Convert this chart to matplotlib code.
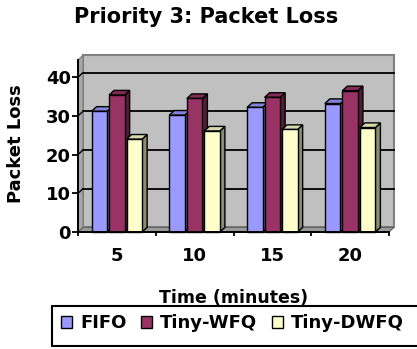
import numpy as np
import matplotlib
matplotlib.use("Agg")
import matplotlib.pyplot as plt
from matplotlib.patches import Rectangle, Polygon, Patch
from matplotlib.colors import to_rgb

plt.rcParams['font.family'] = 'DejaVu Sans'
plt.rcParams['font.weight'] = 'bold'

# packet loss per run length
minutes = ['5', '10', '15', '20']
fifo = [31.2, 30.2, 32.2, 33.2]
tiny_wfq = [35.4, 34.5, 34.8, 36.5]
tiny_dwfq = [24.0, 26.1, 26.5, 27.0]
series_names = ['FIFO', 'Tiny-WFQ', 'Tiny-DWFQ']
series_colors = ['#9999FF', '#993366', '#FFFFCC']

W, H = 417, 349
fig = plt.figure(figsize=(W / 100, H / 100), dpi=100)

def fx(px):
    return px / W

def fy(py):
    return 1 - py / H

# front plane of the 3d box: x 78..389 px, value 0 at 232 px, 3.87 px per unit
ymax = 172 / 3.87
ax = fig.add_axes([fx(78), fy(232), 311 / W, 172 / H])
ax.set_xlim(0, 4)
ax.set_ylim(0, ymax)

# depth offset of the back plane, in data units
dx = 5 / 77.75
dy = 4.6 / 3.87

def shade(c, f):
    r, g, b = to_rgb(c)
    return (r * f, g * f, b * f)

# walls and floor
ax.add_patch(Polygon([(dx, dy), (4 + dx, dy), (4 + dx, ymax + dy), (dx, ymax + dy)],
                     closed=True, facecolor='#C0C0C0', edgecolor='#808080',
                     linewidth=1.5, clip_on=False, zorder=0))
ax.add_patch(Polygon([(0, 0), (dx, dy), (dx, ymax + dy), (0, ymax)],
                     closed=True, facecolor='#A8A8A8', edgecolor='#808080',
                     linewidth=1.0, clip_on=False, zorder=0))
ax.add_patch(Polygon([(0, 0), (4, 0), (4 + dx, dy), (dx, dy)],
                     closed=True, facecolor='#9A9A9A', edgecolor='#606060',
                     linewidth=0.8, clip_on=False, zorder=0.5))

# gridlines on back wall and left wall
for v in [10, 20, 30, 40]:
    ax.plot([dx, 4 + dx], [v + dy, v + dy], color='black', lw=1.3,
            clip_on=False, zorder=0.6)
    ax.plot([0, dx], [v, v + dy], color='black', lw=1.0,
            clip_on=False, zorder=0.6)

# bars
bw = 0.2
pitch = 0.225
for i in range(len(minutes)):
    for k, vals in enumerate([fifo, tiny_wfq, tiny_dwfq]):
        v = vals[i]
        c = series_colors[k]
        x0 = i + 0.5 + (k - 1) * pitch - bw / 2
        z = 1 + i * 0.1 + k * 0.01
        ax.add_patch(Polygon([(x0 + bw, 0), (x0 + bw + dx, dy), (x0 + bw + dx, v + dy), (x0 + bw, v)],
                             closed=True, facecolor=shade(c, 0.55), edgecolor='black',
                             linewidth=1.0, clip_on=False, zorder=z))
        ax.add_patch(Polygon([(x0, v), (x0 + dx, v + dy), (x0 + bw + dx, v + dy), (x0 + bw, v)],
                             closed=True, facecolor=shade(c, 0.85), edgecolor='black',
                             linewidth=1.0, clip_on=False, zorder=z))
        ax.add_patch(Rectangle((x0, 0), bw, v, facecolor=c, edgecolor='black',
                               linewidth=1.0, clip_on=False, zorder=z + 0.001))

# axes lines and ticks
for s in ['top', 'right']:
    ax.spines[s].set_visible(False)
ax.spines['left'].set_linewidth(1.4)
ax.spines['bottom'].set_linewidth(1.4)
ax.spines['left'].set_zorder(5)
ax.spines['bottom'].set_zorder(5)
ax.set_facecolor('none')

ax.set_yticks([0, 10, 20, 30, 40])
ax.set_yticklabels(['0', '10', '20', '30', '40'])
ax.tick_params(axis='y', direction='out', length=4, width=1.3, pad=1,
               labelsize=13)
ax.set_xticks([0.5, 1.5, 2.5, 3.5])
ax.set_xticklabels(minutes)
ax.tick_params(axis='x', which='major', length=0, pad=11, labelsize=13)
ax.set_xticks([0, 1, 2, 3, 4], minor=True)
ax.tick_params(axis='x', which='minor', direction='out', length=3, width=1.3)
for lbl in ax.get_xticklabels() + ax.get_yticklabels():
    lbl.set_fontweight('bold')

# titles
fig.text(fx(206), fy(22.7), 'Priority 3: Packet Loss', ha='center', va='baseline',
         fontsize=15, fontweight='bold')
fig.text(fx(16.5), fy(144), 'Packet Loss', ha='center', va='center', rotation=90,
         fontsize=13, fontweight='bold')
fig.text(fx(234), fy(302.7), 'Time (minutes)', ha='center', va='baseline',
         fontsize=12.5, fontweight='bold')

# legend box running off the right edge
fig.patches.append(Rectangle((fx(52.3), fy(346)), (430 - 52.3) / W, 40 / H,
                             transform=fig.transFigure, facecolor='white',
                             edgecolor='black', linewidth=1.5, zorder=0))
handles = [Patch(facecolor=c, edgecolor='black', linewidth=1.0) for c in series_colors]
leg = fig.legend(handles, series_names, loc='center left',
                 bbox_to_anchor=(fx(60.7), fy(323.5)), ncol=3, frameon=False,
                 fontsize=13, handlelength=0.62, handleheight=0.62,
                 handletextpad=0.45, columnspacing=0.8, borderpad=0,
                 borderaxespad=0)
for t in leg.get_texts():
    t.set_fontweight('bold')

fig.savefig('out.png', dpi=100)
